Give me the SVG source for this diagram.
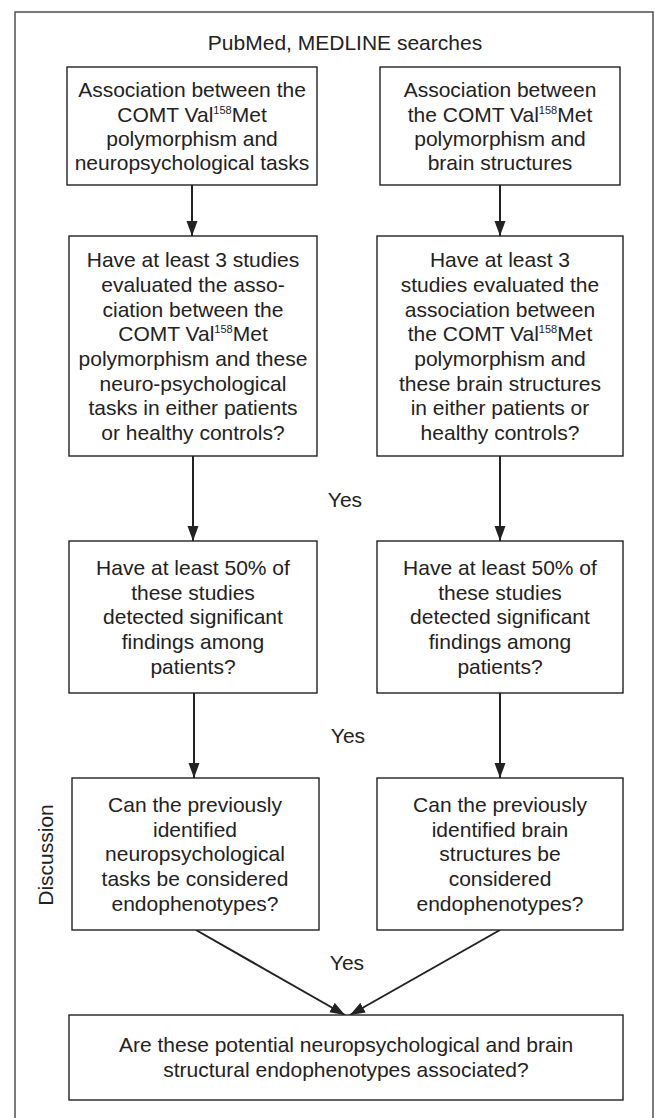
<svg xmlns="http://www.w3.org/2000/svg" width="655" height="1118" viewBox="0 0 655 1118">
<defs>
<style>
.box{fill:#fff;stroke:#222;stroke-width:1.4}
.t{font-family:"Liberation Sans",Arial,sans-serif;font-size:21px;fill:#222;text-anchor:middle}
.sup{font-size:11px}
.c{stroke:#222;stroke-width:2;fill:none}
</style>
<marker id="ah" markerUnits="userSpaceOnUse" markerWidth="16" markerHeight="12" refX="15" refY="6" orient="auto">
<path d="M0,0.5 L15,6 L0,11.5 z" fill="#222"/>
</marker>
</defs>
<rect x="0" y="0" width="655" height="1118" fill="#fff"/>
<rect x="15" y="12" width="638" height="1130" fill="none" stroke="#444" stroke-width="1.4"/>
<text class="t" x="345" y="50">PubMed, MEDLINE searches</text>

<g id="connectors">
<line class="c" x1="192" y1="185" x2="192" y2="236" marker-end="url(#ah)"/>
<line class="c" x1="500" y1="185" x2="500" y2="236" marker-end="url(#ah)"/>
<line class="c" x1="193" y1="456" x2="193" y2="541" marker-end="url(#ah)"/>
<line class="c" x1="500" y1="456" x2="500" y2="541" marker-end="url(#ah)"/>
<line class="c" x1="194" y1="693" x2="194" y2="778" marker-end="url(#ah)"/>
<line class="c" x1="500" y1="693" x2="500" y2="778" marker-end="url(#ah)"/>
<line class="c" x1="196" y1="930" x2="345" y2="1015" marker-end="url(#ah)"/>
<line class="c" x1="500" y1="930" x2="350" y2="1015" marker-end="url(#ah)"/>
<text class="t" x="345" y="507">Yes</text>
<text class="t" x="348" y="743">Yes</text>
<text class="t" x="347" y="970">Yes</text>
</g>

<g id="L1">
<rect class="box" x="67" y="67" width="250" height="118"/>
<text class="t" x="192" y="97">Association between the</text>
<text class="t" x="192" y="122">COMT Val<tspan class="sup" dy="-8">158</tspan><tspan dy="8">Met</tspan></text>
<text class="t" x="192" y="146">polymorphism and</text>
<text class="t" x="192" y="170">neuropsychological tasks</text>
</g>

<g id="R1">
<rect class="box" x="380" y="67" width="240" height="118"/>
<text class="t" x="500" y="97">Association between</text>
<text class="t" x="500" y="122">the COMT Val<tspan class="sup" dy="-8">158</tspan><tspan dy="8">Met</tspan></text>
<text class="t" x="500" y="146">polymorphism and</text>
<text class="t" x="500" y="170">brain structures</text>
</g>

<g id="L2">
<rect class="box" x="69" y="236" width="248" height="220"/>
<text class="t" x="193" y="267">Have at least 3 studies</text>
<text class="t" x="193" y="292">evaluated the asso-</text>
<text class="t" x="193" y="317">ciation between the</text>
<text class="t" x="193" y="341">COMT Val<tspan class="sup" dy="-8">158</tspan><tspan dy="8">Met</tspan></text>
<text class="t" x="193" y="366">polymorphism and these</text>
<text class="t" x="193" y="391">neuro-psychological</text>
<text class="t" x="193" y="415">tasks in either patients</text>
<text class="t" x="193" y="440">or healthy controls?</text>
</g>

<g id="R2">
<rect class="box" x="377" y="236" width="246" height="220"/>
<text class="t" x="500" y="267">Have at least 3</text>
<text class="t" x="500" y="292">studies evaluated the</text>
<text class="t" x="500" y="317">association between</text>
<text class="t" x="500" y="341">the COMT Val<tspan class="sup" dy="-8">158</tspan><tspan dy="8">Met</tspan></text>
<text class="t" x="500" y="366">polymorphism and</text>
<text class="t" x="500" y="391">these brain structures</text>
<text class="t" x="500" y="415">in either patients or</text>
<text class="t" x="500" y="440">healthy controls?</text>
</g>

<g id="L3">
<rect class="box" x="69" y="541" width="248" height="152"/>
<text class="t" x="193" y="575">Have at least 50% of</text>
<text class="t" x="193" y="600">these studies</text>
<text class="t" x="193" y="624">detected significant</text>
<text class="t" x="193" y="649">findings among</text>
<text class="t" x="193" y="674">patients?</text>
</g>

<g id="R3">
<rect class="box" x="377" y="541" width="246" height="152"/>
<text class="t" x="500" y="575">Have at least 50% of</text>
<text class="t" x="500" y="600">these studies</text>
<text class="t" x="500" y="624">detected significant</text>
<text class="t" x="500" y="649">findings among</text>
<text class="t" x="500" y="674">patients?</text>
</g>

<g id="discussion">
<text class="t" transform="translate(53,855) rotate(-90)">Discussion</text>
</g>

<g id="L4">
<rect class="box" x="72" y="778" width="247" height="152"/>
<text class="t" x="195" y="812">Can the previously</text>
<text class="t" x="195" y="837">identified</text>
<text class="t" x="195" y="861">neuropsychological</text>
<text class="t" x="195" y="886">tasks be considered</text>
<text class="t" x="195" y="911">endophenotypes?</text>
</g>

<g id="R4">
<rect class="box" x="377" y="778" width="246" height="152"/>
<text class="t" x="500" y="812">Can the previously</text>
<text class="t" x="500" y="837">identified brain</text>
<text class="t" x="500" y="861">structures be</text>
<text class="t" x="500" y="886">considered</text>
<text class="t" x="500" y="911">endophenotypes?</text>
</g>

<g id="B">
<rect class="box" x="69" y="1015" width="554" height="85"/>
<text class="t" x="346" y="1052">Are these potential neuropsychological and brain</text>
<text class="t" x="346" y="1077">structural endophenotypes associated?</text>
</g>
</svg>
